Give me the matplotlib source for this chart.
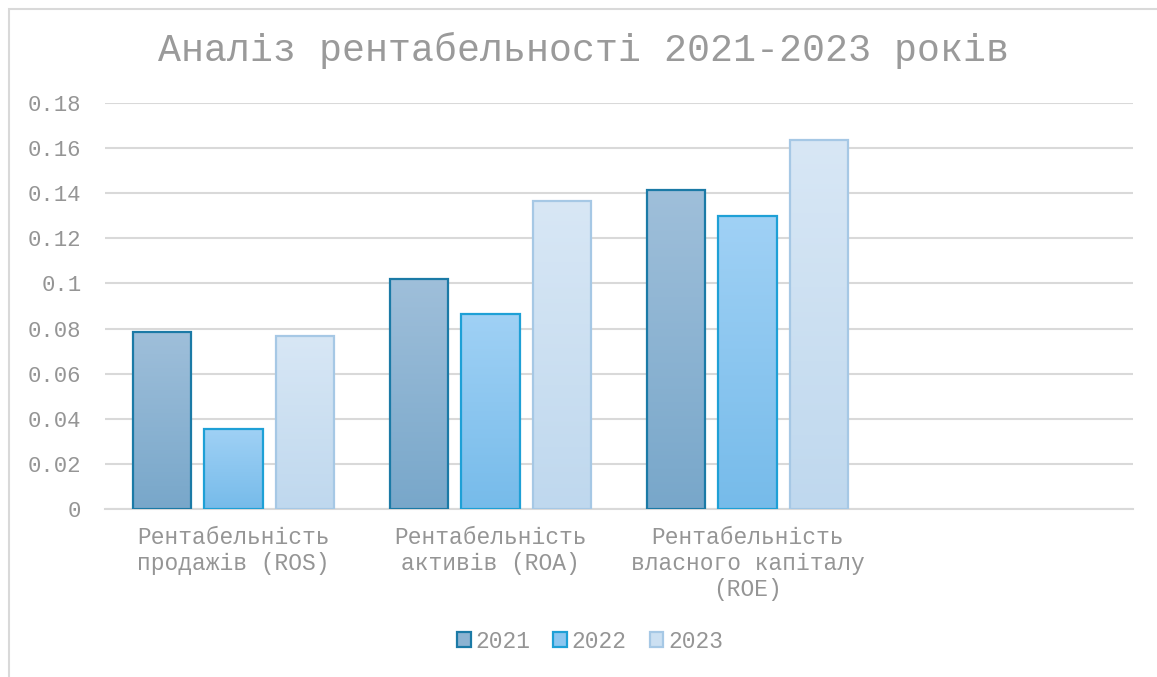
import numpy as np
import matplotlib
matplotlib.use("Agg")
import matplotlib.pyplot as plt
from matplotlib.colors import LinearSegmentedColormap, to_rgb
from matplotlib.patches import Patch, Rectangle

plt.rcParams['font.family'] = ['Liberation Mono', 'DejaVu Sans Mono']

# Data
categories = ["Рентабельність\nпродажів (ROS)",
              "Рентабельність\nактивів (ROA)",
              "Рентабельність\nвласного капіталу\n(ROE)"]
years = ["2021", "2022", "2023"]
ros = [0.0785, 0.0355, 0.0767]
roa = [0.102, 0.0865, 0.1366]
roe = [0.1414, 0.130, 0.1636]
values_by_year = {
    "2021": [ros[0], roa[0], roe[0]],
    "2022": [ros[1], roa[1], roe[1]],
    "2023": [ros[2], roa[2], roe[2]],
}
yticks = [0, 0.02, 0.04, 0.06, 0.08, 0.1, 0.12, 0.14, 0.16, 0.18]
ytick_labels = ["0", "0.02", "0.04", "0.06", "0.08", "0.1", "0.12", "0.14", "0.16", "0.18"]

# Styles (gradient bottom -> top, edge)
styles = {
    "2021": ("#78a7ca", "#9fbfda", "#1b7aa6"),
    "2022": ("#76bbea", "#a0d1f5", "#1ea0d6"),
    "2023": ("#bfd8ee", "#d8e7f5", "#a6c8e5"),
}
text_color = "#959595"
grid_color = "#d9d9d9"

W, H = 1157, 677
fig = plt.figure(figsize=(W / 100, H / 100), dpi=100)
ax = fig.add_axes([105 / W, 1 - 509 / H, (1133 - 105) / W, (509 - 103) / H])

x = np.arange(len(categories))
step = 0.277
width = 0.226
grad = np.linspace(0, 1, 256).reshape(-1, 1)

for i, yr in enumerate(years):
    lo, hi, edge = styles[yr]
    cmap = LinearSegmentedColormap.from_list(yr, [lo, hi])
    bars = ax.bar(x + (i - 1) * step, values_by_year[yr], width,
                  facecolor="none", edgecolor=edge, linewidth=1.6, zorder=3)
    for b in bars:
        bx, by, bw, bh = b.get_x(), b.get_y(), b.get_width(), b.get_height()
        im = ax.imshow(grad, cmap=cmap, origin="lower", aspect="auto",
                       extent=[bx, bx + bw, by, by + bh], zorder=2.5)
        im.set_clip_path(b)

ax.set_xlim(-0.5, 3.5)
ax.set_ylim(0, 0.18)
ax.set_yticks(yticks)
ax.set_yticklabels(ytick_labels)
ax.set_xticks(x)
ax.set_xticklabels(categories, linespacing=1.18)
ax.tick_params(axis='y', length=0, pad=17, labelsize=16, labelcolor=text_color)
ax.tick_params(axis='x', length=0, pad=12, labelsize=16.5, labelcolor=text_color)

ax.grid(axis='y', color=grid_color, linewidth=1.5, zorder=0)
ax.set_axisbelow(True)
for s in ["top", "right", "left"]:
    ax.spines[s].set_visible(False)
ax.spines["bottom"].set_color(grid_color)
ax.spines["bottom"].set_linewidth(1.5)

fig.text(583 / W, 1 - 50 / H, "Аналіз рентабельності 2021-2023 років",
         ha="center", va="center", fontsize=27.5, color="#9a9a9a")

handles = [Patch(facecolor=np.mean([to_rgb(styles[yr][0]), to_rgb(styles[yr][1])], axis=0),
                 edgecolor=styles[yr][2], linewidth=1.6, label=yr) for yr in years]
leg = fig.legend(handles=handles, loc="center", bbox_to_anchor=(590 / W, 1 - 641 / H),
                 ncol=3, frameon=False, fontsize=16.5, handlelength=0.6,
                 handleheight=0.6, handletextpad=0.2, columnspacing=1.0)
for t in leg.get_texts():
    t.set_color(text_color)

fig.patches.append(Rectangle((8.5 / W, -0.1), 1.2, 1.1 - 8.5 / H, transform=fig.transFigure,
                             fill=False, edgecolor=grid_color, linewidth=1.5))

fig.savefig("out.png", dpi=100)
